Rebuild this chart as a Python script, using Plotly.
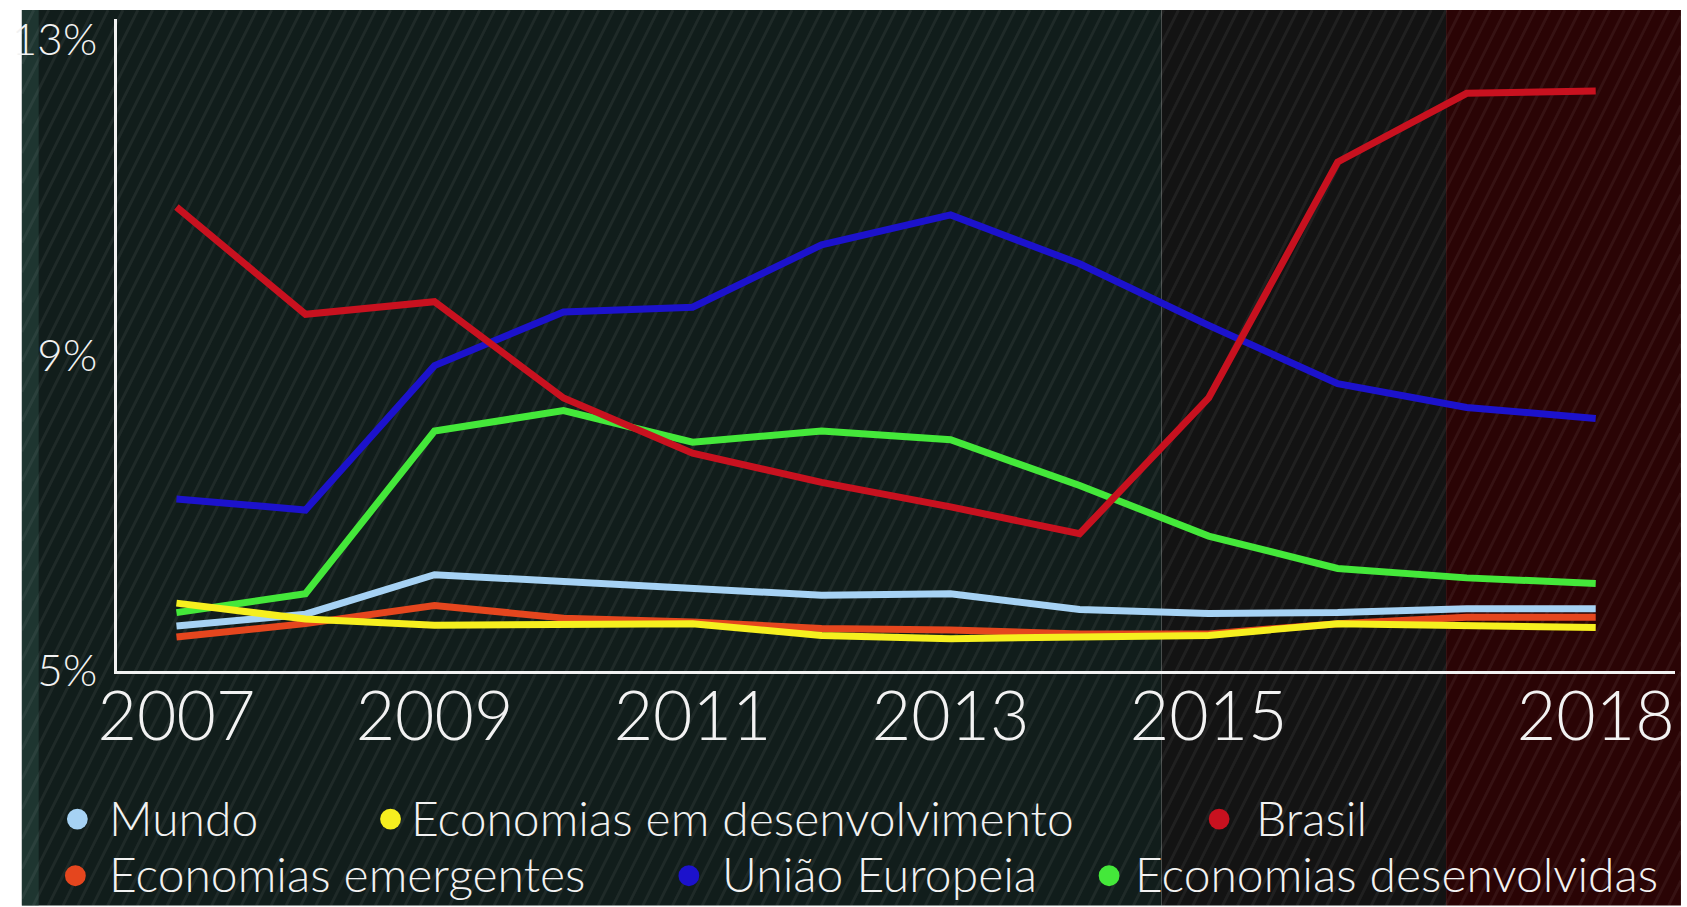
import plotly.graph_objects as go

# ---------------- data ----------------
years = list(range(2007, 2019))
mundo = [5.57, 5.72, 6.22, 6.13, 6.06, 5.96, 5.98, 5.78, 5.73, 5.74, 5.79, 5.79]
emergentes = [5.43, 5.60, 5.83, 5.67, 5.62, 5.54, 5.52, 5.47, 5.47, 5.60, 5.68, 5.68]
desenvolvimento = [5.86, 5.66, 5.58, 5.60, 5.60, 5.45, 5.41, 5.43, 5.45, 5.60, 5.57, 5.55]
uniao_europeia = [7.18, 7.04, 8.87, 9.55, 9.61, 10.40, 10.78, 10.16, 9.38, 8.64, 8.34, 8.20]
desenvolvidas = [5.74, 5.98, 8.04, 8.30, 7.90, 8.04, 7.93, 7.35, 6.71, 6.30, 6.18, 6.11]
brasil = [10.88, 9.52, 9.68, 8.46, 7.76, 7.39, 7.08, 6.74, 8.46, 11.45, 12.32, 12.35]

x_ticks = [2007, 2009, 2011, 2013, 2015, 2018]
x_tick_labels = ["2007", "2009", "2011", "2013", "2015", "2018"]
y_ticks = [5, 9, 13]
y_tick_labels = ["5%", "9%", "13%"]

series = [
    ("Mundo", mundo, "#a6d2f4"),
    ("Economias emergentes", emergentes, "#e5461e"),
    ("Economias desenvolvidas", desenvolvidas, "#44e83a"),
    ("União Europeia", uniao_europeia, "#1c12cc"),
    ("Brasil", brasil, "#c8111f"),
    ("Economias em desenvolvimento", desenvolvimento, "#f6ef1f"),
]

# ---------------- layout geometry (pixels) ----------------
W, H = 1687, 907
L, R, T, B = 103, 1675, 15, 671
PW, PH = R - L, B - T


def px(xp):
    return (xp - L) / PW


def py(yp):
    return (B - yp) / PH


FONT = "Lato, Liberation Sans, sans-serif"

fig = go.Figure()
for name, vals, col in series:
    fig.add_trace(go.Scatter(x=years, y=vals, mode="lines", name=name,
                             line=dict(color=col, width=7), showlegend=False,
                             hoverinfo="x+y+name"))

shapes = []
# background bands
bands = [(7, 1157, "#111d1b"), (1157, 1444, "#131313"), (1444, 1681, "#2a0405")]
for x0, x1, c in bands:
    shapes.append(dict(type="rect", xref="paper", yref="paper",
                       x0=px(x0), x1=px(x1), y0=py(907), y1=py(6),
                       fillcolor=c, line=dict(width=0), layer="below"))
# subtle left edge tint
shapes.append(dict(type="rect", xref="paper", yref="paper",
                   x0=px(7), x1=px(24), y0=py(907), y1=py(6),
                   fillcolor="rgba(40,70,64,0.6)", line=dict(width=0), layer="below"))
# diagonal texture stripes
k = 0.5
parts = []
xb = 7 - 907 * k
while xb < 1681:
    x_bot, y_bot = xb, 907
    x_top, y_top = xb + (907 - 6) * k, 6
    if x_bot < 7:
        y_bot = 907 - (7 - x_bot) / k
        x_bot = 7
    if x_top > 1681:
        y_top = 6 + (x_top - 1681) / k
        x_top = 1681
    if y_bot > y_top:
        parts.append(f"M{px(x_bot):.5f},{py(y_bot):.5f} L{px(x_top):.5f},{py(y_top):.5f}")
    xb += 15
shapes.append(dict(type="path", xref="paper", yref="paper", path=" ".join(parts),
                   line=dict(color="rgba(255,255,255,0.06)", width=3), layer="below"))

# legend markers and labels
legend_items = [
    (63, 820, 93, "Mundo", "#a6d2f4"),
    (379, 820, 398, "Economias em desenvolvimento", "#f6ef1f"),
    (1215, 820, 1250, "Brasil", "#c8111f"),
    (61, 877, 93, "Economias emergentes", "#e5461e"),
    (680, 877, 711, "União Europeia", "#1c12cc"),
    (1104, 877, 1128, "Economias desenvolvidas", "#44e83a"),
]
annotations = []
r = 10.5
for cx, cy, tx, label, col in legend_items:
    shapes.append(dict(type="circle", xref="paper", yref="paper",
                       x0=px(cx - r), x1=px(cx + r), y0=py(cy + r), y1=py(cy - r),
                       fillcolor=col, line=dict(width=0)))
    annotations.append(dict(xref="paper", yref="paper", x=px(tx), y=py(cy - 2),
                            xanchor="left", yanchor="middle", showarrow=False,
                            text=label, font=dict(family=FONT, size=48, color="#f2f2f2",
                                                  weight=300)))

fig.update_layout(
    width=W, height=H,
    margin=dict(l=L, r=W - R, t=T, b=H - B, pad=0),
    paper_bgcolor="white",
    plot_bgcolor="rgba(0,0,0,0)",
    shapes=shapes,
    annotations=annotations,
    xaxis=dict(range=[2007 - 60 / 130.2, 2018 + 80 / 130.2],
               tickvals=x_ticks, ticktext=x_tick_labels,
               showgrid=False, zeroline=False, showline=True,
               linecolor="#f2f2f2", linewidth=3, ticks="",
               tickfont=dict(family=FONT, size=68, color="#f2f2f2", weight=300),
               ticklabelstandoff=-16),
    yaxis=dict(range=[5, 5 + PH / 79.4],
               tickvals=y_ticks, ticktext=y_tick_labels,
               showgrid=False, zeroline=False, showline=True,
               linecolor="#f2f2f2", linewidth=3, ticks="",
               tickfont=dict(family=FONT, size=44, color="#f2f2f2", weight=300),
               ticklabelstandoff=8),
    showlegend=False,
)

fig.write_html("out.html")
